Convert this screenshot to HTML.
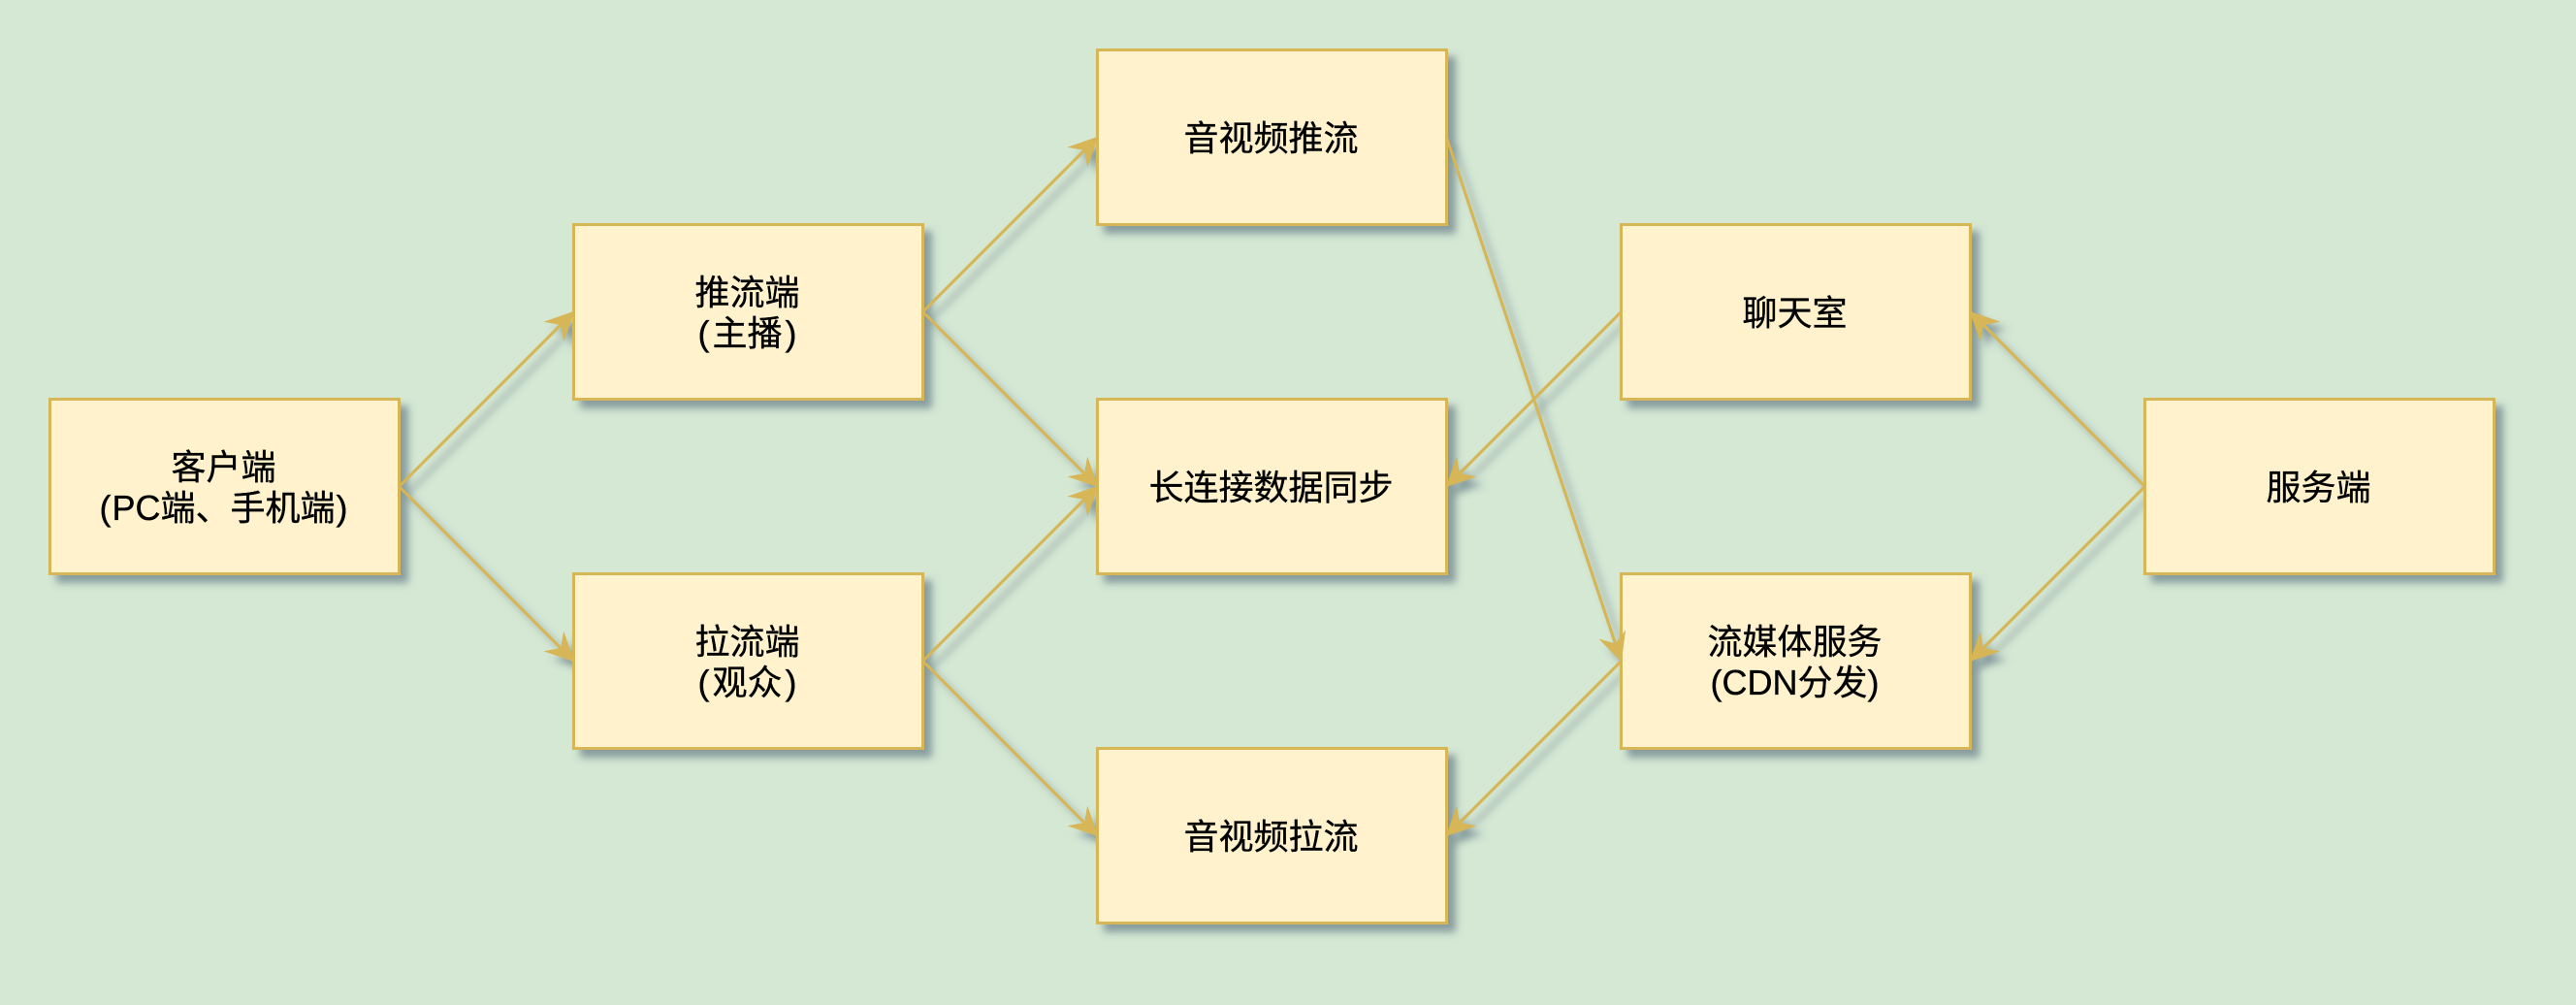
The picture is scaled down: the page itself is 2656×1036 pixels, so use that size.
<!DOCTYPE html>
<html lang="zh">
<head>
<meta charset="utf-8">
<style>
html,body{margin:0;padding:0;width:2656px;height:1036px;overflow:hidden;background:#d5e8d4}
svg{display:block}
text{font-family:"Liberation Sans","Noto Sans CJK SC",sans-serif;font-size:36px;fill:#000;stroke:#000;stroke-width:.35px;text-anchor:middle}
</style>
</head>
<body>
<svg width="2656" height="1036" viewBox="0 0 2656 1036" xmlns="http://www.w3.org/2000/svg">
<defs>
<filter id="se" filterUnits="userSpaceOnUse" x="0" y="0" width="2656" height="1036">
<feDropShadow dx="8" dy="8" stdDeviation="4" flood-color="#3c5268" flood-opacity="0.5"/>
</filter>
<marker id="a" markerUnits="userSpaceOnUse" markerWidth="32" markerHeight="32" refX="29" refY="15" orient="auto">
<path d="M30 15L0 0.5L10 15L0 29.5Z" fill="#d6b656" stroke="none"/>
</marker>
<g id="edges" fill="none" stroke="#d6b656" stroke-width="3">
<path d="M411.5 501.5L591.5 321.5" marker-end="url(#a)"/>
<path d="M411.5 501.5L591.5 681.5" marker-end="url(#a)"/>
<path d="M951.5 321.5L1131.5 141.5" marker-end="url(#a)"/>
<path d="M951.5 321.5L1131.5 501.5" marker-end="url(#a)"/>
<path d="M951.5 681.5L1131.5 501.5" marker-end="url(#a)"/>
<path d="M951.5 681.5L1131.5 861.5" marker-end="url(#a)"/>
<path d="M1491.5 141.5L1671.5 681.5" marker-end="url(#a)"/>
<path d="M1671.5 321.5L1491.5 501.5" marker-end="url(#a)"/>
<path d="M1671.5 681.5L1491.5 861.5" marker-end="url(#a)"/>
<path d="M2211.5 501.5L2031.5 321.5" marker-end="url(#a)"/>
<path d="M2211.5 501.5L2031.5 681.5" marker-end="url(#a)"/>
</g>
</defs>
<rect width="2656" height="1036" fill="#d5e8d4"/>
<use href="#edges" filter="url(#se)"/>
<g fill="#fff2cc" stroke="#d6b656" stroke-width="3" filter="url(#se)">
<rect x="51.5" y="411.5" width="360" height="180"/>
<rect x="591.5" y="231.5" width="360" height="180"/>
<rect x="591.5" y="591.5" width="360" height="180"/>
<rect x="1131.5" y="51.5" width="360" height="180"/>
<rect x="1131.5" y="411.5" width="360" height="180"/>
<rect x="1131.5" y="771.5" width="360" height="180"/>
<rect x="1671.5" y="231.5" width="360" height="180"/>
<rect x="1671.5" y="591.5" width="360" height="180"/>
<rect x="2211.5" y="411.5" width="360" height="180"/>
</g>
<use href="#edges"/>
<text x="230.5" y="494">客户端</text>
<text x="230.5" y="536">(<tspan dx="1">PC端、手机端</tspan><tspan dx="1">)</tspan></text>
<text x="770.5" y="314">推流端</text>
<text x="770.5" y="356">(<tspan dx="3">主播</tspan><tspan dx="3">)</tspan></text>
<text x="770.5" y="674">拉流端</text>
<text x="770.5" y="716">(<tspan dx="3">观众</tspan><tspan dx="3">)</tspan></text>
<text x="1310.5" y="155">音视频推流</text>
<text x="1310.5" y="515">长连接数据同步</text>
<text x="1310.5" y="875">音视频拉流</text>
<text x="1850.5" y="335">聊天室</text>
<text x="1850.5" y="674">流媒体服务</text>
<text x="1850.5" y="716">(CDN分发)</text>
<text x="2390.5" y="515">服务端</text>
</svg>
</body>
</html>
